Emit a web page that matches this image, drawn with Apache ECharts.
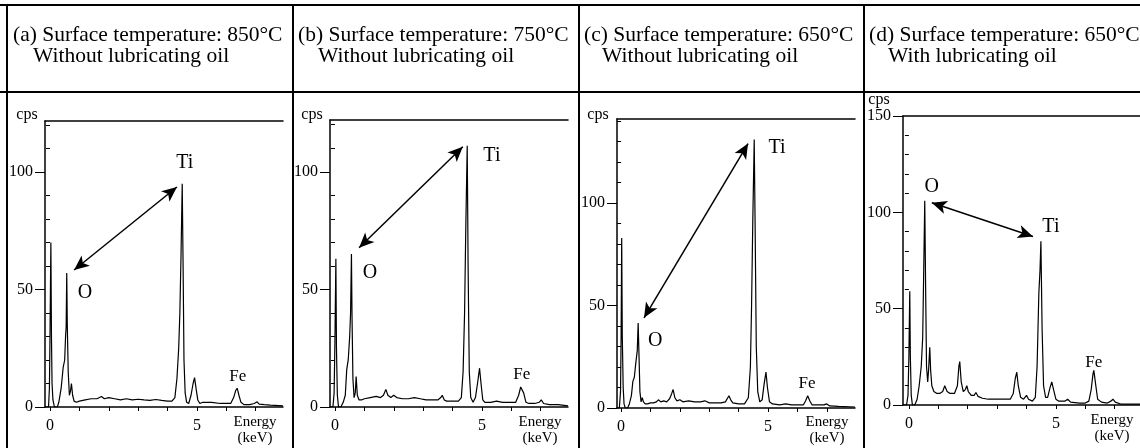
<!DOCTYPE html>
<html>
<head>
<meta charset="utf-8">
<script src="https://cdn.jsdelivr.net/npm/echarts@6/dist/echarts.min.js"></script>
<style>html,body{margin:0;padding:0;background:#fff}#c{width:1140px;height:448px}</style>
</head>
<body>
<div id="c"></div>
<script>
// ---------- data ----------
const panelTitles = [
  ['(a) Surface temperature: 850°C', 'Without lubricating oil'],
  ['(b) Surface temperature: 750°C', 'Without lubricating oil'],
  ['(c) Surface temperature: 650°C', 'Without lubricating oil'],
  ['(d) Surface temperature: 650°C', 'With lubricating oil']
];
const energyTicks = [0, 1, 2, 3, 4, 5, 6, 7];
const energyLabels = [0, 5];
const cpsLabelsABC = [0, 50, 100];
const cpsLabelsD = [0, 50, 100, 150];
const cpsMinorABC = [10, 20, 30, 40, 60, 70, 80, 90, 110, 120];
const cpsMinorC = [10, 20, 30, 40, 60, 70, 80, 90, 110, 120, 130, 140];
const cpsMinorD = [10, 20, 30, 40, 60, 70, 80, 90, 110, 120, 130, 140];

const spectrumA = [[-0.17,0],[-0.05,0],[-0.02,8],[0.0,30],[0.03,70],[0.05,30],[0.07,10],[0.1,3],[0.15,0],[0.25,0],[0.3,2],[0.38,8],[0.45,17],[0.5,20],[0.53,30],[0.55,34],[0.57,57],[0.59,34],[0.62,15],[0.66,5],[0.7,7],[0.73,10],[0.77,5],[0.82,2.5],[0.9,2],[1.0,2.5],[1.2,3],[1.4,3.5],[1.6,3.5],[1.75,4.5],[1.85,3.5],[2.0,4],[2.2,3.5],[2.4,3],[2.6,3.5],[2.8,3],[3.0,3.3],[3.2,3],[3.4,2.8],[3.6,3.2],[3.8,2.8],[4.0,2.5],[4.15,2.5],[4.25,4],[4.32,12],[4.38,25],[4.42,40],[4.46,65],[4.5,95],[4.53,60],[4.56,20],[4.6,6],[4.65,2],[4.72,1.5],[4.8,5],[4.87,10],[4.92,12.5],[4.97,8],[5.03,3],[5.1,1.5],[5.2,2],[5.5,2],[5.8,1.5],[6.0,1.5],[6.15,1.5],[6.25,4],[6.32,7],[6.37,8],[6.43,5],[6.5,2],[6.6,1],[6.8,1],[6.95,1.5],[7.05,2.2],[7.12,1.2],[7.3,1],[7.5,0.8],[7.93,0.5]];
const spectrumB = [[-0.17,0],[-0.07,0],[-0.03,6],[0.0,30],[0.03,63],[0.05,25],[0.08,5],[0.12,0],[0.2,0],[0.28,2],[0.35,5],[0.4,16],[0.45,20],[0.5,30],[0.53,40],[0.56,65],[0.58,38],[0.61,12],[0.65,4],[0.69,6],[0.72,13],[0.76,5],[0.82,3],[0.9,3],[1.0,3.5],[1.2,4],[1.4,4.5],[1.55,4],[1.65,5],[1.73,7.5],[1.8,5],[1.9,4],[2.0,5],[2.1,4],[2.3,3.5],[2.5,3.5],[2.7,4],[2.9,3.5],[3.1,3],[3.3,3],[3.5,3],[3.6,4],[3.65,5],[3.72,3],[3.8,2.5],[4.0,2.5],[4.2,2.5],[4.3,4],[4.36,15],[4.41,40],[4.45,75],[4.5,111],[4.53,60],[4.57,15],[4.62,4],[4.7,2],[4.78,4],[4.85,10],[4.92,16.5],[4.97,10],[5.03,3],[5.1,2],[5.3,2],[5.5,2.5],[5.7,2],[6.0,2],[6.15,2],[6.25,5],[6.32,8.5],[6.36,9],[6.42,6],[6.5,2],[6.6,1.5],[6.8,1.5],[6.95,2],[7.02,3],[7.1,1.5],[7.3,1],[7.6,1],[7.93,0.5]];
const spectrumC = [[-0.14,0],[-0.06,0],[-0.02,8],[0.0,35],[0.02,83],[0.04,35],[0.07,10],[0.1,2],[0.14,0],[0.22,0],[0.28,2],[0.35,6],[0.4,13],[0.45,15],[0.5,22],[0.55,28],[0.58,41.5],[0.61,25],[0.64,8],[0.68,3],[0.72,5],[0.76,3],[0.82,2],[0.9,2],[1.0,2.5],[1.1,2.5],[1.2,3],[1.27,4],[1.35,3],[1.45,3.5],[1.55,3],[1.65,4.5],[1.72,7],[1.77,9],[1.83,5],[1.9,3.5],[2.0,4],[2.1,3],[2.3,3.5],[2.5,3],[2.7,3],[2.85,3.5],[3.0,2.5],[3.2,2.5],[3.4,2.5],[3.55,3],[3.63,5],[3.67,6],[3.73,4],[3.8,2.5],[4.0,2],[4.2,2],[4.33,5],[4.4,20],[4.44,50],[4.48,90],[4.53,131],[4.56,90],[4.6,30],[4.65,8],[4.72,3],[4.8,4],[4.87,12],[4.93,17.5],[4.98,10],[5.05,3],[5.15,2],[5.4,1.5],[5.6,2],[5.8,1.5],[6.0,1.5],[6.2,1.5],[6.28,3.5],[6.35,6],[6.42,3.5],[6.5,1.5],[6.7,1.5],[6.9,1.5],[7.0,2],[7.1,1],[7.4,0.8],[7.96,0.5]];
const spectrumD = [[-0.2,0],[-0.08,0],[-0.03,5],[0.0,25],[0.03,59],[0.05,25],[0.08,5],[0.12,0],[0.2,0],[0.28,3],[0.35,10],[0.42,20],[0.47,35],[0.5,65],[0.54,106],[0.57,60],[0.6,20],[0.64,12],[0.67,18],[0.71,30],[0.74,18],[0.78,10],[0.85,7],[0.95,6],[1.05,6],[1.15,7],[1.22,10],[1.26,10.5],[1.3,7],[1.4,6],[1.55,6],[1.65,10],[1.7,20],[1.73,22.5],[1.78,12],[1.85,7],[1.92,8],[1.97,10],[2.02,7],[2.12,5],[2.22,5],[2.28,6.5],[2.35,4.5],[2.5,3.5],[2.7,3],[2.9,3],[3.1,3],[3.3,3],[3.45,3],[3.55,6],[3.62,14],[3.67,17],[3.72,10],[3.8,4],[3.9,3],[4.0,5],[4.07,3],[4.2,2],[4.3,4],[4.36,20],[4.42,58],[4.46,70],[4.49,85],[4.53,40],[4.58,10],[4.65,4],[4.72,4],[4.8,9],[4.86,12],[4.92,8],[5.0,3],[5.1,2],[5.3,2],[5.4,3],[5.5,1.5],[5.8,1],[6.0,1],[6.12,2],[6.2,8],[6.26,16],[6.29,18],[6.34,12],[6.42,3],[6.55,1.5],[6.75,1],[6.87,2],[6.94,3],[7.02,1.5],[7.2,0.5],[7.5,0.5],[7.86,0.5]];

// double arrows [x1,y1,x2,y2] in (keV, cps)
const arrowA = [4.32, 93.6, 0.82, 58.3];
const arrowB = [4.35, 110.6, 0.82, 67.7];
const arrowC = [4.32, 129, 0.78, 44];
const arrowD = [0.78, 105, 4.22, 87.5];

// peak labels [name, keV, cps]
const peaksA = [['Ti', 4.59, 104], ['O', 1.19, 48.5], ['Fe', 6.39, 12.8]];
const peaksB = [['Ti', 5.34, 107], ['O', 1.19, 57], ['Fe', 6.36, 13.6]];
const peaksC = [['Ti', 5.31, 127], ['O', 1.16, 33], ['Fe', 6.33, 12]];
const peaksD = [['O', 0.78, 113.5], ['Ti', 4.83, 92.7], ['Fe', 6.29, 21.9]];

// ---------- layout ----------
const FONT = '"Liberation Serif", "DejaVu Serif", serif';
const panels = [
  {grid:{left:45, width:238, top:121, height:286}, xMin:-0.17, xMax:7.93, yMax:121.7, labels:cpsLabelsABC, minor:cpsMinorABC, data:spectrumA, arrow:arrowA, peaks:peaksA},
  {grid:{left:330, width:238, top:120, height:287}, xMin:-0.17, xMax:7.93, yMax:122, labels:cpsLabelsABC, minor:cpsMinorABC, data:spectrumB, arrow:arrowB, peaks:peaksB},
  {grid:{left:617, width:238, top:119, height:289}, xMin:-0.14, xMax:7.96, yMax:141, labels:cpsLabelsABC, minor:cpsMinorC, data:spectrumC, arrow:arrowC, peaks:peaksC},
  {grid:{left:903, width:237, top:116, height:289}, xMin:-0.2, xMax:7.86, yMax:150, labels:cpsLabelsD, minor:cpsMinorD, data:spectrumD, arrow:arrowD, peaks:peaksD}
];

const grid = [], xAxis = [], yAxis = [], series = [];
panels.forEach((p, i) => {
  grid.push(Object.assign({containLabel:false}, p.grid));
  xAxis.push({
    type:'value', gridIndex:i, min:p.xMin, max:p.xMax, position:'bottom',
    axisLine:{show:true, onZero:false, lineStyle:{color:'#000', width:1.5}},
    axisTick:{show:true, inside:false, length:4, customValues:energyTicks, lineStyle:{color:'#000', width:1}},
    axisLabel:{show:true, customValues:energyLabels, margin:11, fontSize:16, fontFamily:FONT, color:'#000'},
    splitLine:{show:false}
  });
  xAxis.push({
    type:'value', gridIndex:i, min:p.xMin, max:p.xMax, position:'top',
    axisLine:{show:true, onZero:false, lineStyle:{color:'#000', width:1.5}},
    axisTick:{show:false}, axisLabel:{show:false}, splitLine:{show:false}
  });
  yAxis.push({
    type:'value', gridIndex:i, min:0, max:p.yMax, position:'left',
    axisLine:{show:true, onZero:false, lineStyle:{color:'#000', width:1.5}},
    axisTick:{show:true, length:10, customValues:p.labels, lineStyle:{color:'#000', width:1}},
    axisLabel:{show:true, customValues:p.labels, margin:12, fontSize:16, fontFamily:FONT, color:'#000'},
    splitLine:{show:false}
  });
  yAxis.push({
    type:'value', gridIndex:i, min:0, max:p.yMax, position:'left',
    axisLine:{show:false},
    axisTick:{show:true, length:4, customValues:p.minor, lineStyle:{color:'#000', width:1}},
    axisLabel:{show:false}, splitLine:{show:false}
  });
  const a = p.arrow;
  series.push({
    type:'line', xAxisIndex:2*i, yAxisIndex:2*i, data:p.data,
    showSymbol:false, symbol:'none', smooth:false, silent:true, animation:false,
    lineStyle:{color:'#000', width:1.2},
    markLine:{
      silent:true, animation:false, symbol:['arrow','arrow'], symbolSize:[10,15],
      lineStyle:{color:'#000', width:1.5, type:'solid'}, label:{show:false},
      data:[[{coord:[a[0], a[1]]}, {coord:[a[2], a[3]]}]]
    },
    markPoint:{
      silent:true, animation:false, symbol:'circle', symbolSize:0,
      label:{show:true, position:'inside', color:'#000', fontFamily:FONT,
             formatter:(q)=>q.name},
      data:p.peaks.map(k => ({name:k[0], coord:[k[1], k[2]],
        label:{fontSize: k[0]==='Fe' ? 17 : 20}}))
    }
  });
});

// frame lines & fixed texts
const graphic = [];
const line = (x1,y1,x2,y2,w) => graphic.push({type:'line', silent:true,
  shape:{x1,y1,x2,y2}, style:{stroke:'#000', lineWidth:w}});
line(0, 5, 1140, 5, 2);
line(0, 92, 1140, 92, 2);
[7, 293, 579, 864].forEach(x => line(x, 5, x, 448, 2));

const text = (t, x, y, size, align) => graphic.push({type:'text', silent:true,
  style:{text:t, x, y, font:size + 'px ' + FONT, fill:'#000', align:align||'left', verticalAlign:'middle'}});
const titleX = [[13, 33], [298, 318], [584, 602], [869, 888]];
panelTitles.forEach((t, i) => {
  text(t[0], titleX[i][0], 35, 21.5);
  text(t[1], titleX[i][1], 56, 21.5);
});
[[27,115],[312,115],[598,115],[879,100]].forEach(c => text('cps', c[0], c[1], 16, 'center'));
[[255,255],[540,540],[827,827],[1112,1112]].forEach((c, i) => {
  const yy = i === 3 ? 420 : 422;
  text('Energy', c[0], yy, 15, 'center');
  text('(keV)', c[1], yy + 16, 15, 'center');
});

const chart = echarts.init(document.getElementById('c'), null, {renderer:'canvas'});
chart.setOption({animation:false, backgroundColor:'#fff', grid, xAxis, yAxis, series, graphic});
</script>
</body>
</html>
